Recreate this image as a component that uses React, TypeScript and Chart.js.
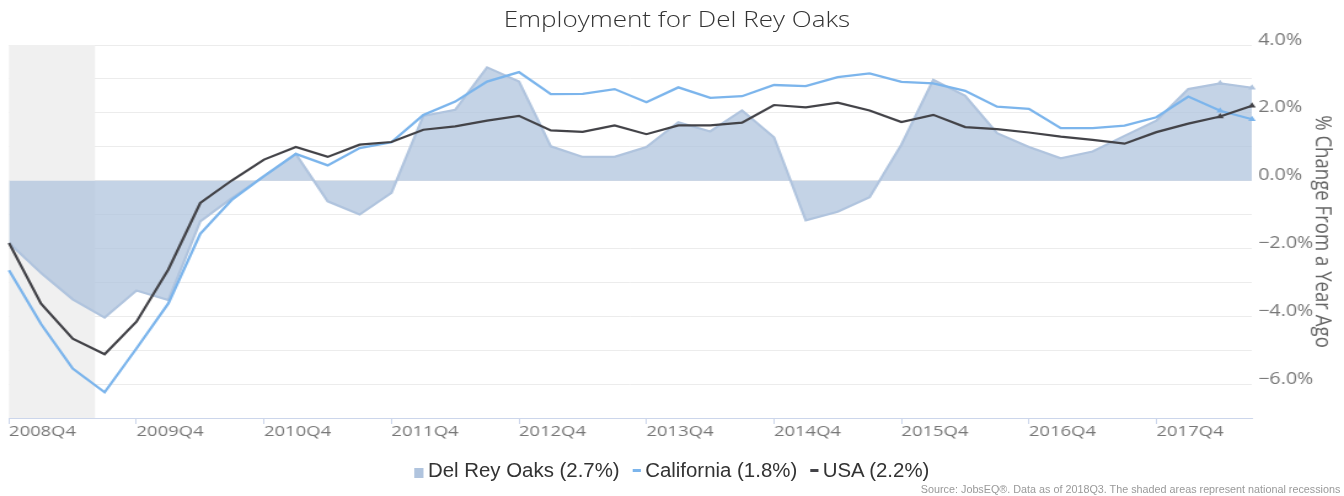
import React, { useEffect, useRef } from 'react';
import { Chart, registerables } from 'chart.js';

Chart.register(...registerables);

const quarters = [
  '2008Q4', '2009Q1', '2009Q2', '2009Q3', '2009Q4', '2010Q1', '2010Q2', '2010Q3',
  '2010Q4', '2011Q1', '2011Q2', '2011Q3', '2011Q4', '2012Q1', '2012Q2', '2012Q3',
  '2012Q4', '2013Q1', '2013Q2', '2013Q3', '2013Q4', '2014Q1', '2014Q2', '2014Q3',
  '2014Q4', '2015Q1', '2015Q2', '2015Q3', '2015Q4', '2016Q1', '2016Q2', '2016Q3',
  '2016Q4', '2017Q1', '2017Q2', '2017Q3', '2017Q4', '2018Q1', '2018Q2', '2018Q3',
];

const delReyOaks = [
  -1.84, -2.72, -3.5, -4.04, -3.24, -3.52, -1.2, -0.51, 0.13, 0.79,
  -0.61, -1.0, -0.36, 1.91, 2.09, 3.34, 2.92, 1.01, 0.7, 0.7,
  0.99, 1.72, 1.45, 2.07, 1.28, -1.17, -0.92, -0.49, 1.06, 2.97,
  2.5, 1.4, 0.99, 0.66, 0.86, 1.32, 1.77, 2.7, 2.87, 2.74,
];

const california = [
  -2.64, -4.22, -5.54, -6.24, -4.95, -3.62, -1.57, -0.56, 0.13, 0.79,
  0.45, 0.96, 1.13, 1.94, 2.33, 2.92, 3.2, 2.55, 2.56, 2.7,
  2.31, 2.75, 2.44, 2.49, 2.82, 2.79, 3.05, 3.16, 2.91, 2.87,
  2.65, 2.18, 2.12, 1.55, 1.55, 1.62, 1.87, 2.48, 2.06, 1.81,
];

const usa = [
  -1.84, -3.62, -4.66, -5.12, -4.16, -2.62, -0.66, 0.01, 0.62, 0.99,
  0.7, 1.06, 1.14, 1.5, 1.6, 1.77, 1.91, 1.48, 1.44, 1.63,
  1.37, 1.63, 1.63, 1.71, 2.23, 2.16, 2.3, 2.07, 1.73, 1.94,
  1.58, 1.52, 1.42, 1.3, 1.2, 1.09, 1.43, 1.68, 1.89, 2.21,
];

const seriesLabels = ['Del Rey Oaks (2.7%)', 'California (1.8%)', 'USA (2.2%)'];
const seriesColors = ['#b0c4de', '#7cb5ec', '#434348'];

// recession shading, in quarter-index units (from start of data to mid 2009)
const recessionStart = 0;
const recessionEnd = 2.7;

const W = 1093;
const H = 496;
const STRETCH = 1344 / W;
const FONT = "'Open Sans', 'DejaVu Sans', sans-serif";
const NARROW = "'Liberation Sans Narrow', 'Liberation Sans', Arial, sans-serif";

const fmtPct = (v: number) => {
  if (v === 0) return '0.0%';
  return (v < 0 ? '\u2212' : '') + Math.abs(v).toFixed(1) + '%';
};

const recessionPlugin = {
  id: 'recessionBand',
  beforeDatasetsDraw(chart: any) {
    const { ctx, chartArea, scales } = chart;
    const x0 = scales.x.getPixelForValue(recessionStart);
    const x1 = scales.x.getPixelForValue(recessionEnd);
    ctx.save();
    ctx.fillStyle = '#f0f0f0';
    ctx.fillRect(x0, chartArea.top, x1 - x0, chartArea.bottom - chartArea.top);
    ctx.restore();
  },
};

export default function App() {
  const canvasRef = useRef<HTMLCanvasElement | null>(null);

  useEffect(() => {
    const canvas = canvasRef.current;
    if (!canvas) return;
    const radii = quarters.map((_, i) => (i >= quarters.length - 2 ? 3.5 : 0));
    const chart = new Chart(canvas, {
      type: 'line',
      data: {
        labels: quarters,
        datasets: [
          {
            label: seriesLabels[2],
            data: usa,
            borderColor: seriesColors[2],
            backgroundColor: seriesColors[2],
            borderWidth: 2.2,
            pointRadius: radii,
            pointStyle: 'triangle',
            pointBorderWidth: 0,
            pointBackgroundColor: seriesColors[2],
            fill: false,
            tension: 0,
            order: 1,
            clip: false,
          },
          {
            label: seriesLabels[1],
            data: california,
            borderColor: seriesColors[1],
            backgroundColor: seriesColors[1],
            borderWidth: 2.3,
            pointRadius: radii,
            pointStyle: 'triangle',
            pointBorderWidth: 0,
            pointBackgroundColor: seriesColors[1],
            fill: false,
            tension: 0,
            order: 2,
            clip: false,
          },
          {
            label: seriesLabels[0],
            data: delReyOaks,
            borderColor: seriesColors[0],
            backgroundColor: 'rgba(176,196,222,0.75)',
            borderWidth: 2.2,
            pointRadius: radii,
            pointStyle: 'triangle',
            pointBorderWidth: 0,
            pointBackgroundColor: seriesColors[0],
            fill: 'origin',
            tension: 0,
            order: 3,
            clip: false,
          },
        ],
      },
      options: {
        responsive: false,
        maintainAspectRatio: false,
        animation: false,
        layout: { padding: { left: 7.3, top: 45, right: 0, bottom: 0 } },
        plugins: {
          legend: { display: false },
          title: { display: false },
          tooltip: { enabled: false },
        },
        scales: {
          x: {
            type: 'category',
            offset: false,
            ticks: {
              autoSkip: false,
              maxRotation: 0,
              minRotation: 0,
              align: 'start',
              padding: -1,
              color: '#777777',
              font: { family: FONT, size: 15 },
              callback: (_v: any, i: number) => (i % 4 === 0 ? quarters[i] : null),
            },
            grid: {
              display: true,
              drawOnChartArea: false,
              drawTicks: true,
              tickLength: 6,
              color: '#ccd6eb',
            },
            border: { display: true, color: '#ccd6eb', width: 1 },
            afterFit: (s: any) => {
              s.height = 78;
            },
          },
          y: {
            position: 'right',
            min: -7,
            max: 4,
            ticks: {
              stepSize: 1,
              padding: 5,
              labelOffset: -5,
              color: '#777777',
              font: { family: FONT, size: 16 },
              callback: (v: any) => (Math.round(v) % 2 === 0 ? fmtPct(Number(v)) : ''),
            },
            grid: { color: '#ececec', drawTicks: false, lineWidth: 1 },
            border: { display: false },
            title: {
              display: true,
              text: '% Change From a Year Ago',
              color: '#666666',
              font: { family: FONT, size: 18.6 },
              padding: { top: 7, bottom: 0 },
            },
            afterFit: (s: any) => {
              s.width = 1344 / STRETCH - 1252 / STRETCH;
            },
          },
        },
      },
      plugins: [recessionPlugin],
    } as any);
    return () => chart.destroy();
  }, []);

  const markerStyles: React.CSSProperties[] = [
    { width: 9, height: 10, background: seriesColors[0], alignSelf: 'flex-end', marginBottom: 4 },
    { width: 8, height: 3, background: seriesColors[1] },
    { width: 8, height: 3, background: seriesColors[2] },
  ];

  return (
    <div
      style={{
        position: 'absolute',
        left: 0,
        top: 0,
        width: W,
        height: H,
        transform: `scaleX(${STRETCH})`,
        transformOrigin: '0 0',
        background: '#ffffff',
        overflow: 'hidden',
      }}
    >
      <canvas ref={canvasRef} width={W} height={H} style={{ width: W, height: H, display: 'block' }} />
      <div
        style={{
          position: 'absolute',
          left: 4,
          top: 7,
          width: W,
          textAlign: 'center',
          fontFamily: FONT,
          fontWeight: 300,
          fontSize: 21.2,
          lineHeight: '24px',
          color: '#333333',
          whiteSpace: 'nowrap',
        }}
      >
        Employment for Del Rey Oaks
      </div>
      <div
        style={{
          position: 'absolute',
          left: 0,
          top: 458,
          width: W,
          display: 'flex',
          justifyContent: 'center',
          alignItems: 'center',
          fontFamily: NARROW,
          fontSize: 20,
          lineHeight: '24px',
          color: '#333333',
          whiteSpace: 'nowrap',
          transform: 'scaleX(0.83)',
          transformOrigin: '50% 0',
        }}
      >
        {seriesLabels.map((label, i) => (
          <span
            key={label}
            style={{ display: 'inline-flex', alignItems: 'center', height: 24, marginLeft: i === 0 ? 0 : 13 }}
          >
            <span style={{ display: 'inline-block', marginRight: 4, ...markerStyles[i] }} />
            <span>{label}</span>
          </span>
        ))}
      </div>
      <div
        style={{
          position: 'absolute',
          right: 3,
          top: 484,
          fontFamily: NARROW,
          fontSize: 10,
          lineHeight: '12px',
          color: '#999999',
          whiteSpace: 'nowrap',
          transform: 'scaleX(0.877)',
          transformOrigin: '100% 0',
        }}
      >
        Source: JobsEQ®. Data as of 2018Q3. The shaded areas represent national recessions
      </div>
    </div>
  );
}
